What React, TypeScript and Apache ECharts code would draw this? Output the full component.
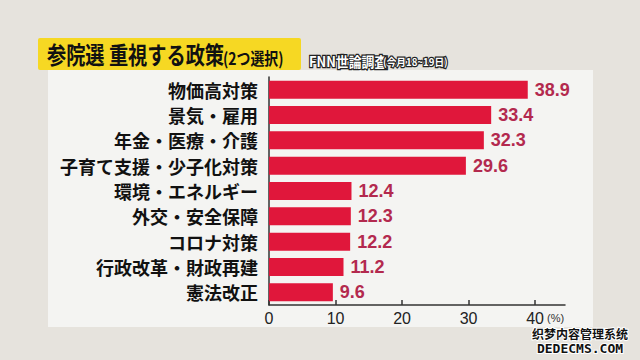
import React, { useEffect, useRef } from "react";
import * as echarts from "echarts";

const categories = [
  "物価高対策",
  "景気・雇用",
  "年金・医療・介護",
  "子育て支援・少子化対策",
  "環境・エネルギー",
  "外交・安全保障",
  "コロナ対策",
  "行政改革・財政再建",
  "憲法改正",
];
const values = [38.9, 33.4, 32.3, 29.6, 12.4, 12.3, 12.2, 11.2, 9.6];
const tickValues = [0, 10, 20, 30, 40];
const titleMain = "参院選 重視する政策";
const titleSub = "(2つ選択)";
const sourceMain = "FNN世論調査";
const sourceSub = "(今月18~19日)";
const unitLabel = "(%)";

const CJK = '"Noto Sans CJK JP", "Noto Sans", sans-serif';
const NUM = '"Liberation Sans", Arial, sans-serif';

export default function App() {
  const ref = useRef<HTMLDivElement>(null);
  useEffect(() => {
    if (!ref.current) return;
    const chart = echarts.init(ref.current, null, { renderer: "svg" });
    chart.setOption({
      animation: false,
      backgroundColor: "#e6e3dd",
      grid: { left: 269, top: 77, width: 296, height: 228, containLabel: false },
      xAxis: {
        type: "value",
        min: 0,
        max: 44.5,
        interval: 10,
        splitLine: { show: false },
        axisLine: { show: true, lineStyle: { color: "#333", width: 1.5 } },
        axisTick: {
          show: true,
          inside: true,
          length: 5,
          customValues: tickValues,
          lineStyle: { color: "#333", width: 1.5 },
        },
        axisLabel: {
          customValues: tickValues,
          color: "#222",
          fontFamily: NUM,
          fontSize: 16,
          fontWeight: 500,
          margin: 5,
          formatter: (v: number) => (v % 10 === 0 && v <= 40 ? String(v) : ""),
        },
      },
      yAxis: {
        type: "category",
        data: categories,
        inverse: true,
        axisLine: { show: true, lineStyle: { color: "#333", width: 1.5 } },
        axisTick: { show: false },
        axisLabel: {
          color: "#111",
          fontFamily: CJK,
          fontWeight: "bold",
          fontSize: 18,
          margin: 11,
        },
      },
      series: [
        {
          type: "bar",
          data: values,
          barWidth: 18,
          itemStyle: { color: "#e0173b" },
          label: {
            show: true,
            position: "right",
            distance: 7,
            color: "#b3294e",
            fontFamily: NUM,
            fontWeight: "bold",
            fontSize: 18,
            formatter: (p: any) => Number(p.value).toFixed(1),
          },
          z: 3,
        },
      ],
      graphic: [
        {
          type: "rect",
          z: -10,
          shape: { x: 48, y: 70, width: 545, height: 257 },
          style: { fill: "#f4f4f2" },
        },
        {
          type: "rect",
          z: -5,
          shape: { x: 38, y: 38, width: 263, height: 32, r: 2 },
          style: { fill: "#f6d823" },
        },
        {
          type: "text",
          z: 20,
          x: 47,
          y: 54,
          scaleX: 0.8,
          style: {
            text: titleMain,
            font: `bold 24px ${CJK}`,
            fill: "#111",
            verticalAlign: "middle",
            align: "left",
          },
        },
        {
          type: "text",
          z: 20,
          x: 223,
          y: 57,
          scaleX: 0.82,
          style: {
            text: titleSub,
            font: `bold 17px ${CJK}`,
            fill: "#111",
            verticalAlign: "middle",
            align: "left",
          },
        },
        {
          type: "text",
          z: 20,
          x: 309,
          y: 68,
          scaleX: 0.92,
          style: {
            text: sourceMain,
            font: `bold 14px ${CJK}`,
            fill: "#fff",
            stroke: "#222",
            lineWidth: 2.5,
            verticalAlign: "bottom",
            align: "left",
          },
        },
        {
          type: "text",
          z: 20,
          x: 383,
          y: 67,
          scaleX: 0.92,
          style: {
            text: sourceSub,
            font: `bold 10.5px ${CJK}`,
            fill: "#fff",
            stroke: "#222",
            lineWidth: 2.5,
            verticalAlign: "bottom",
            align: "left",
          },
        },
        {
          type: "text",
          z: 20,
          x: 547,
          y: 318,
          style: {
            text: unitLabel,
            font: `11px ${NUM}`,
            fill: "#333",
            verticalAlign: "middle",
            align: "left",
          },
        },
        {
          type: "text",
          z: 20,
          x: 580,
          y: 333,
          style: {
            text: "织梦内容管理系统",
            font: `bold 12px "Noto Sans CJK SC", sans-serif`,
            fill: "#111",
            stroke: "#fff",
            lineWidth: 2,
            verticalAlign: "middle",
            align: "center",
          },
        },
        {
          type: "text",
          z: 20,
          x: 580,
          y: 348,
          style: {
            text: "DEDECMS.COM",
            font: `bold 13px "DejaVu Sans Mono", monospace`,
            fill: "#111",
            stroke: "#fff",
            lineWidth: 2,
            verticalAlign: "middle",
            align: "center",
          },
        },
      ],
    });
    return () => chart.dispose();
  }, []);
  return (
    <div
      ref={ref}
      style={{ position: "fixed", left: 0, top: 0, width: 640, height: 360 }}
    />
  );
}
